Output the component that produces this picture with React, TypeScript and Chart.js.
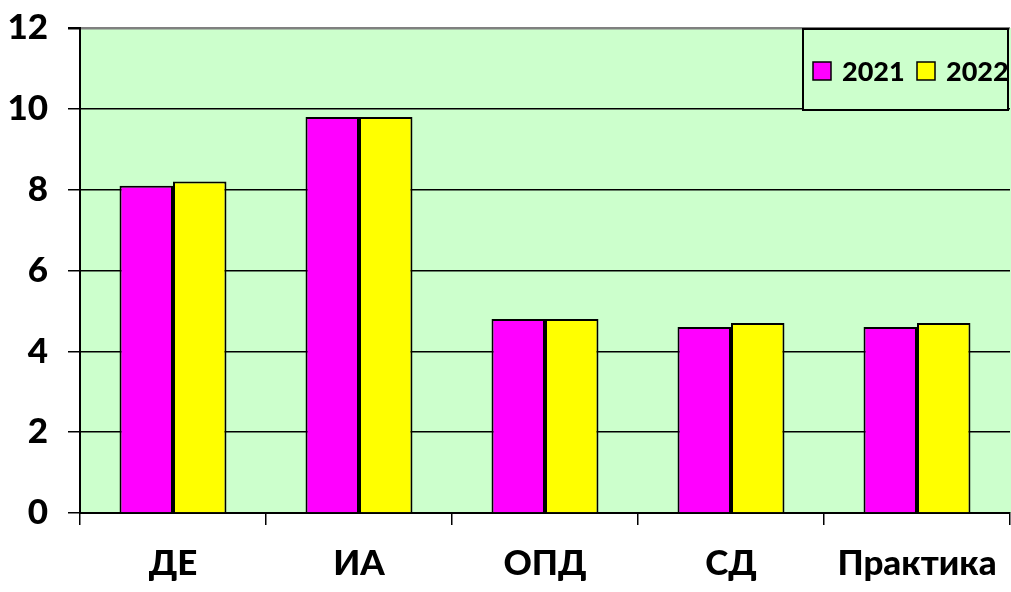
import React, { useEffect, useRef } from "react";
import { Chart, registerables } from "chart.js";

Chart.register(...registerables);

const categories = ["ДЕ", "ИА", "ОПД", "СД", "Практика"];
const series2021 = [8.1, 9.8, 4.8, 4.6, 4.6];
const series2022 = [8.2, 9.8, 4.8, 4.7, 4.7];
const seriesLabels = ["2021", "2022"];
const seriesColors = ["#FF00FF", "#FFFF00"];
const yMin = 0;
const yMax = 12;
const yStep = 2;

const FONT = "Lato, 'Open Sans', sans-serif";

const bgPlugin = {
  id: "plotBg",
  beforeDraw(chart: any) {
    const { ctx, chartArea } = chart;
    ctx.save();
    ctx.fillStyle = "#CCFFCC";
    ctx.fillRect(chartArea.left, chartArea.top, chartArea.right - chartArea.left + 4, chartArea.bottom - chartArea.top);
    ctx.restore();
  },
};

const boxLegendPlugin = {
  id: "boxLegend",
  afterDraw(chart: any) {
    const { ctx } = chart;
    const bx = 803, by = 29, bw = 205, bh = 81;
    ctx.save();
    ctx.fillStyle = "#CCFFCC";
    ctx.fillRect(bx, by, bw, bh);
    ctx.strokeStyle = "#000";
    ctx.lineWidth = 2;
    ctx.strokeRect(bx, by, bw, bh);
    const cy = 71;
    const items = chart.data.datasets.map((d: any) => ({ label: d.label, color: d.backgroundColor }));
    const xs = [813, 917];
    ctx.font = `900 27px ${FONT}`;
    ctx.textBaseline = "middle";
    ctx.textAlign = "left";
    items.forEach((it: any, i: number) => {
      const x = xs[i];
      ctx.fillStyle = it.color;
      ctx.fillRect(x, cy - 9, 18, 18);
      ctx.lineWidth = 1.5;
      ctx.strokeStyle = "#000";
      ctx.strokeRect(x, cy - 9, 18, 18);
      ctx.fillStyle = "#000";
      ctx.fillText(it.label, x + 29, cy + 1);
    });
    ctx.restore();
  },
};

export default function App() {
  const ref = useRef<HTMLCanvasElement | null>(null);
  useEffect(() => {
    if (!ref.current) return;
    const chart = new Chart(ref.current, {
      type: "bar",
      data: {
        labels: categories,
        datasets: [
          {
            label: seriesLabels[0],
            data: series2021,
            backgroundColor: seriesColors[0],
            borderColor: "#000",
            borderWidth: 2,
            borderSkipped: "bottom",
          },
          {
            label: seriesLabels[1],
            data: series2022,
            backgroundColor: seriesColors[1],
            borderColor: "#000",
            borderWidth: 2,
            borderSkipped: "bottom",
          },
        ],
      },
      options: {
        responsive: false,
        animation: false,
        layout: { padding: { top: 28, right: 1, left: 0, bottom: 0 } },
        datasets: { bar: { categoryPercentage: 0.575, barPercentage: 1 } },
        plugins: {
          legend: { display: false },
          tooltip: { enabled: false },
        },
        scales: {
          x: {
            grid: {
              offset: true,
              drawOnChartArea: false,
              drawTicks: true,
              tickLength: 12,
              color: "#000",
              lineWidth: 1.5,
            },
            border: { display: true, color: "#000", width: 2 },
            ticks: {
              color: "#000",
              padding: 18,
              font: { family: FONT, size: 35, weight: "900" },
              maxRotation: 0,
              autoSkip: false,
            },
            afterFit(scale: any) {
              scale.height = 79;
              scale.paddingLeft = 0;
              scale.paddingRight = 0;
              scale.paddingTop = 0;
              scale.paddingBottom = 0;
            },
          },
          y: {
            min: yMin,
            max: yMax,
            ticks: {
              stepSize: yStep,
              color: "#000",
              padding: 20,
              font: { family: FONT, size: 35, weight: "900" },
            },
            grid: {
              color: (c: any) => (c.tick && c.tick.value === yMax ? "#808080" : "#000"),
              lineWidth: (c: any) => (c.tick && c.tick.value === yMax ? 2.5 : 1.5),
              tickLength: 12,
              drawTicks: true,
              tickColor: "#000",
            },
            border: { display: true, color: "#000", width: 2 },
            afterFit(scale: any) {
              scale.width = 80;
              scale.paddingTop = 0;
              scale.paddingBottom = 0;
              scale.paddingLeft = 0;
              scale.paddingRight = 0;
            },
          },
        },
      },
      plugins: [bgPlugin, boxLegendPlugin],
    });
    return () => chart.destroy();
  }, []);
  return (
    <div style={{ position: "absolute", left: 0, top: 0, width: 1011, height: 592, background: "#fff" }}>
      <canvas ref={ref} width={1011} height={592} style={{ width: 1011, height: 592, display: "block" }} />
    </div>
  );
}
